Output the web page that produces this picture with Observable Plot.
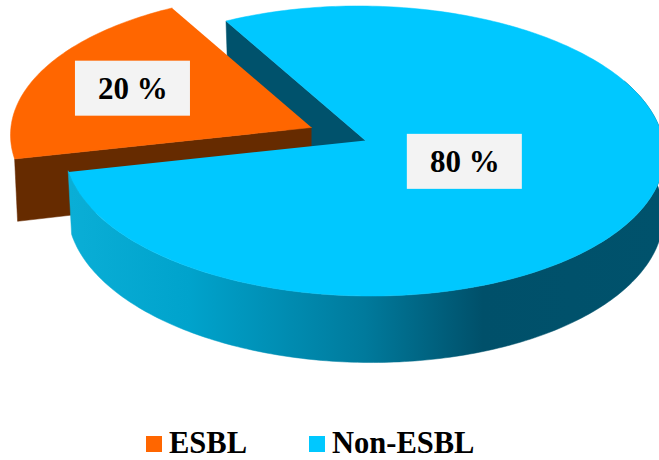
<!DOCTYPE html>
<html>
<head>
<meta charset="utf-8">
<script src="https://cdn.jsdelivr.net/npm/d3@7"></script>
<script src="https://cdn.jsdelivr.net/npm/@observablehq/plot@0.6"></script>
<style>
  html, body { margin: 0; padding: 0; background: #fff; }
  #chart svg { display: block; }
  #legend {
    display: flex; align-items: center; height: 37px; padding-left: 146px;
    font: bold 30.5px "Liberation Serif", serif; color: #000; line-height: 1;
  }
  #legend .swatch { width: 16px; height: 16px; margin-right: 7px; flex: none; }
  #legend .name { margin-right: 62px; }
</style>
</head>
<body>
<div id="chart"></div>
<div id="legend"></div>
<script>
// Values
const categories = ["ESBL", "Non-ESBL"];
const shares = [20, 80];
const topColors = ["#ff6600", "#00c8ff"];

// Styling
const brownWall = "#662b00";
const tealWall = "#00526c";
const labelFill = "#f3f3f3";

// Disc layout, in the pixel units of the two identity scales
const width = 659, svgHeight = 425;
const disc = {cx: 364, cy: 150.5, rx: 300, ry: 145};
const floor = {cx: 365, cy: 212, rx: 298, ry: 150};
const tilt = 3;
const hub = {x: 365, y: 140};
const hubDrop = 60;
const explode = {x: -54, y: -13};
const firstAngle = -99.5;
const labelReach = {x: [0.665, 0.37], y: [0.6, 0.33]};
const labelBox = {w: 115, h: 55};

const degrees = shares.map((s) => (s / d3.sum(shares)) * 360);
const sliceStart = [firstAngle, firstAngle + degrees[0]];
const sliceEnd = [firstAngle + degrees[0], firstAngle + degrees[0] + degrees[1]];

const onRim = (e, a, dx = 0, dy = 0) => {
  const t = (a * Math.PI) / 180;
  return {
    x: e.cx + dx + e.rx * Math.sin(t),
    y: e.cy + dy - e.ry * Math.cos(t) + tilt * Math.sin(t)
  };
};
const rim = (e, a0, a1, dx = 0, dy = 0) =>
  d3.range(0, Math.abs(a1 - a0) + 1).map((i) => onRim(e, a0 + Math.sign(a1 - a0) * i, dx, dy));

// Top faces
const esblTop = [
  {x: hub.x + explode.x, y: hub.y + explode.y},
  ...rim(disc, sliceStart[0], sliceEnd[0], explode.x, explode.y)
];
const otherTop = [{x: hub.x, y: hub.y}, ...rim(disc, sliceStart[1], sliceEnd[1])];

// Cut faces seen through the gap between the slices
const esblCut = [
  {x: hub.x + explode.x, y: hub.y + explode.y},
  onRim(disc, sliceStart[0], explode.x, explode.y),
  onRim(floor, sliceStart[0], explode.x, explode.y),
  {x: hub.x + explode.x, y: hub.y + explode.y + hubDrop}
];
const otherCut = [
  {x: hub.x, y: hub.y},
  onRim(disc, sliceStart[1]),
  onRim(floor, sliceStart[1]),
  {x: hub.x, y: hub.y + hubDrop}
];

// Curved outer wall of the larger slice
const wallFrom = 60, wallTo = sliceEnd[1];
const otherWall = [...rim(disc, wallFrom, wallTo), ...rim(floor, wallTo, wallFrom)];

// Value labels
const labels = categories.map((c, i) => {
  const mid = ((sliceStart[i] + sliceEnd[i]) / 2) * Math.PI / 180;
  const ox = i === 0 ? hub.x + explode.x : hub.x;
  const oy = i === 0 ? hub.y + explode.y : hub.y;
  return {
    text: `${shares[i]} %`,
    x: ox + labelReach.x[i] * disc.rx * Math.sin(mid),
    y: oy - labelReach.y[i] * disc.ry * Math.cos(mid)
  };
});

const face = (pts, fill) => Plot.line(pts, {x: "x", y: "y", fill, stroke: fill, strokeWidth: 0.5, curve: "linear"});

const chart = Plot.plot({
  width,
  height: svgHeight,
  margin: 0,
  x: {axis: null, domain: [0, width], range: [0, width]},
  y: {axis: null, domain: [0, svgHeight], range: [0, svgHeight]},
  marks: [
    face(otherCut, tealWall),
    face(esblCut, brownWall),
    face(esblTop, topColors[0]),
    face(otherWall, "url(#wallShade)"),
    face(otherTop, topColors[1]),
    Plot.rect(labels, {
      x1: (d) => d.x - labelBox.w / 2,
      x2: (d) => d.x + labelBox.w / 2,
      y1: (d) => d.y - labelBox.h / 2,
      y2: (d) => d.y + labelBox.h / 2,
      fill: labelFill
    }),
    Plot.text(labels, {
      x: "x", y: "y", text: "text",
      fontFamily: "Liberation Serif", fontWeight: "bold", fontSize: 31, fill: "#000"
    })
  ]
});

// Horizontal shading of the outer wall
const shade = d3.select(chart).append("defs").append("linearGradient")
  .attr("id", "wallShade").attr("gradientUnits", "userSpaceOnUse")
  .attr("x1", 70).attr("x2", 659).attr("y1", 0).attr("y2", 0);
[[0, "#0aaed6"], [0.2, "#00a3cc"], [0.5, "#007a9c"], [0.7, "#00506a"], [1, "#00526c"]]
  .forEach(([o, c]) => shade.append("stop").attr("offset", o).attr("stop-color", c));

document.getElementById("chart").append(chart);

// Legend row under the chart
const legend = d3.select("#legend");
categories.forEach((c, i) => {
  legend.append("span").attr("class", "swatch").style("background", topColors[i]);
  legend.append("span").attr("class", "name").text(c);
});
</script>
</body>
</html>
